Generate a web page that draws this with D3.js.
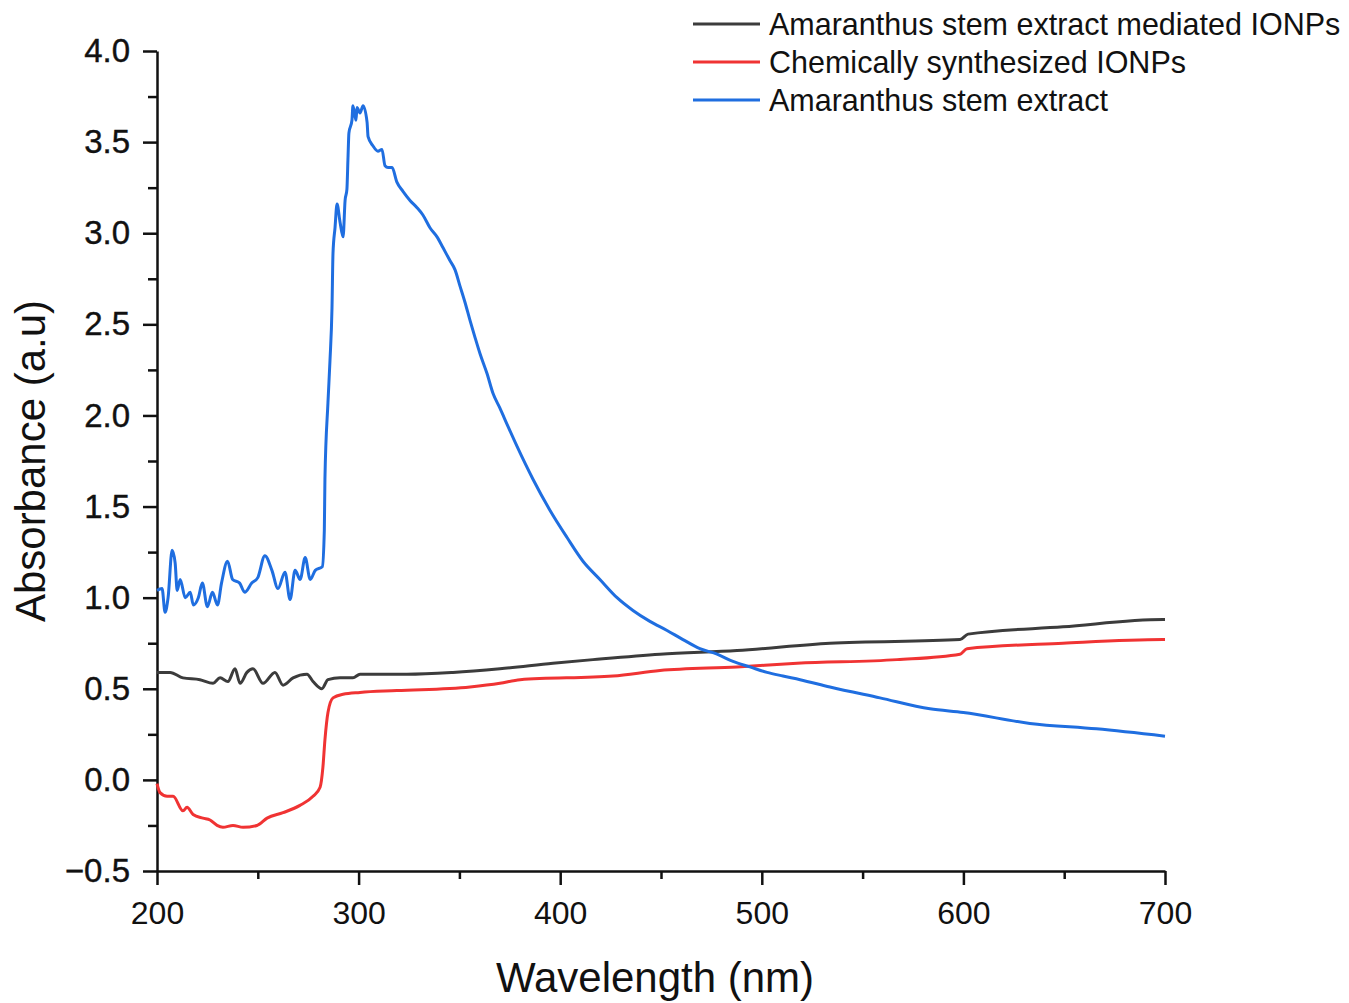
<!DOCTYPE html>
<html>
<head>
<meta charset="utf-8">
<script src="https://cdn.jsdelivr.net/npm/d3@7"></script>
<style>
  body { margin: 0; background: #fff; }
  svg text { font-family: "Liberation Sans", Arial, sans-serif; fill: #111; }
</style>
</head>
<body>
<div id="chart"></div>
<script>
// data: [wavelength nm, absorbance]
var seriesNames = ["Amaranthus stem extract mediated IONPs", "Chemically synthesized IONPs", "Amaranthus stem extract"];
var seriesColors = ["#3c3c3c", "#f03333", "#1f6ee0"];

var mediatedIONPs = [
  [200, 0.59], [206.5, 0.59], [212.9, 0.56], [221.3, 0.55], [227.8, 0.53], [231.3, 0.56],
  [235.2, 0.54], [238.7, 0.61], [241.2, 0.53], [244.6, 0.59], [247.6, 0.61], [252.6, 0.53],
  [258.5, 0.59], [262.5, 0.52], [267.5, 0.56], [274.4, 0.58], [277.4, 0.54], [281.8, 0.50],
  [284.8, 0.55], [290.8, 0.56], [297.2, 0.56], [300.7, 0.58], [324, 0.58], [346.8, 0.59],
  [370.1, 0.61], [396.4, 0.64], [416.3, 0.66], [449.5, 0.69], [487.7, 0.71], [533.8, 0.75],
  [598.3, 0.77], [602.3, 0.80], [649.4, 0.84], [699, 0.88], [700, 0.88]
];

var chemicalIONPs = [
  [200, -0.02], [201.5, -0.07], [205, -0.09], [208, -0.09], [212.9, -0.17], [214.9, -0.15],
  [217.9, -0.19], [222.8, -0.21], [226.3, -0.22], [229.8, -0.25], [232.7, -0.26], [237.7, -0.25],
  [242.7, -0.26], [249.6, -0.25], [254.6, -0.21], [262.5, -0.18], [270.9, -0.14], [277.4, -0.09],
  [280.9, -0.04], [282.3, 0.07], [283.3, 0.22], [284.8, 0.37], [287.3, 0.45], [292.3, 0.47],
  [300.7, 0.48], [319, 0.49], [355.3, 0.51], [370.1, 0.53], [380.1, 0.55], [426.2, 0.57],
  [449.5, 0.60], [487.7, 0.62], [517.5, 0.64], [567.1, 0.66], [598.3, 0.69], [601.8, 0.72],
  [649.4, 0.75], [699, 0.77], [700, 0.77]
];

var stemExtract = [
  [200, 1.04], [202.5, 1.05], [204, 0.92], [205.5, 1.00], [207.5, 1.26], [209, 1.19], [210, 1.04],
  [211.5, 1.10], [214, 1.00], [216.5, 1.03], [218, 0.96], [220.5, 1.00], [222.5, 1.08], [225, 0.95],
  [227.5, 1.03], [230, 0.96], [232, 1.08], [235, 1.20], [237.5, 1.10], [241, 1.08], [243.5, 1.03],
  [247, 1.08], [250, 1.11], [253.5, 1.23], [257, 1.15], [260, 1.05], [263.5, 1.14], [266, 0.99],
  [268.5, 1.15], [271, 1.10], [273.5, 1.22], [276, 1.10], [278.5, 1.15], [282, 1.17], [283, 1.37],
  [283.3, 1.65], [284.8, 2.07], [285.8, 2.30], [286.8, 2.59], [287.3, 2.89], [288.3, 3.03],
  [289.3, 3.16], [290.8, 3.06], [292.3, 2.98], [293.3, 3.18], [294.2, 3.24], [294.7, 3.40],
  [295.2, 3.55], [296.7, 3.62], [297.2, 3.70], [298.7, 3.62], [299.2, 3.69], [300.7, 3.66],
  [302.2, 3.70], [304.2, 3.61], [304.7, 3.53], [307.1, 3.48], [309.6, 3.45], [311.6, 3.46],
  [313.1, 3.37], [314.6, 3.36], [316.6, 3.36], [319, 3.28], [322, 3.23], [325.5, 3.18],
  [329, 3.14], [331.9, 3.10], [335.4, 3.03], [338.9, 2.98], [341.9, 2.92], [345.3, 2.85],
  [347.8, 2.80], [350.3, 2.71], [352.8, 2.62], [355.3, 2.52], [357.7, 2.43], [360.2, 2.34],
  [363.7, 2.23], [366.7, 2.12], [370.1, 2.04], [374.1, 1.94], [378.6, 1.83], [386.5, 1.65],
  [394.9, 1.48], [403.4, 1.33], [411.3, 1.20], [419.7, 1.10], [428.2, 1.00], [436.1, 0.93],
  [444.5, 0.87], [453, 0.82], [460.9, 0.77], [469.3, 0.72], [477.8, 0.69], [485.7, 0.65],
  [494.1, 0.62], [502.6, 0.59], [510.5, 0.57], [519, 0.55], [533.8, 0.51], [558.6, 0.45],
  [583.4, 0.39], [600, 0.37], [633, 0.31], [666, 0.28], [700, 0.24]
];

var xTicks = [200, 300, 400, 500, 600, 700];
var xMinorTicks = [250, 350, 450, 550, 650];
var yTicks = [-0.5, 0.0, 0.5, 1.0, 1.5, 2.0, 2.5, 3.0, 3.5, 4.0];
var yMinorTicks = [-0.25, 0.25, 0.75, 1.25, 1.75, 2.25, 2.75, 3.25, 3.75];

var svgWidth = 1349;
var svgHeight = 1003;
var margin = { top: 51, right: 184, bottom: 132, left: 157 };
var chartWidth = svgWidth - margin.left - margin.right;
var chartHeight = svgHeight - margin.top - margin.bottom;

var svg = d3.select("#chart")
    .append("svg")
    .attr("width", svgWidth)
    .attr("height", svgHeight);

var chartGroup = svg.append("g")
    .attr("transform", `translate(${margin.left}, ${margin.top})`);

var xScale = d3.scaleLinear().domain([200, 700]).range([0, chartWidth]);
var yScale = d3.scaleLinear().domain([-0.5, 4.0]).range([chartHeight, 0]);

// minor ticks first
chartGroup.append("g")
    .attr("transform", `translate(0, ${chartHeight})`)
    .call(d3.axisBottom(xScale).tickValues(xMinorTicks).tickSize(8).tickFormat(""))
    .call(g => g.select(".domain").remove());

chartGroup.append("g")
    .call(d3.axisLeft(yScale).tickValues(yMinorTicks).tickSize(9).tickFormat(""))
    .call(g => g.select(".domain").remove());

// major axes
var xAxis = chartGroup.append("g")
    .attr("transform", `translate(0, ${chartHeight})`)
    .call(d3.axisBottom(xScale).tickValues(xTicks).tickSize(14).tickSizeOuter(0).tickPadding(16));

var yAxis = chartGroup.append("g")
    .call(d3.axisLeft(yScale).tickValues(yTicks).tickSize(14).tickSizeOuter(0).tickPadding(13)
        .tickFormat(d3.format(".1f")));

chartGroup.selectAll(".tick line").attr("stroke", "#111").attr("stroke-width", 2.5);
chartGroup.selectAll(".domain").attr("stroke", "#111").attr("stroke-width", 2.5);

xAxis.selectAll("text").attr("font-size", 32).attr("font-family", "Liberation Sans");
yAxis.selectAll("text").attr("font-size", 33).attr("font-family", "Liberation Sans")
    .attr("stroke", "#111").attr("stroke-width", 0.4);

// lines
var line = d3.line()
    .x(d => xScale(d[0]))
    .y(d => yScale(d[1]))
    .curve(d3.curveMonotoneX);

var allSeries = [mediatedIONPs, chemicalIONPs, stemExtract];

allSeries.forEach(function(data, i) {
    chartGroup.append("path")
        .datum(data)
        .attr("fill", "none")
        .attr("stroke", seriesColors[i])
        .attr("stroke-width", 3)
        .attr("stroke-linejoin", "round")
        .attr("d", line);
});

// axis labels
svg.append("text")
    .attr("transform", "translate(45, 461) rotate(-90)")
    .attr("text-anchor", "middle")
    .attr("font-size", 42)
    .text("Absorbance (a.u)");

svg.append("text")
    .attr("x", 655)
    .attr("y", 992)
    .attr("text-anchor", "middle")
    .attr("font-size", 42)
    .text("Wavelength (nm)");

// legend
var legend = svg.append("g");
seriesNames.forEach(function(name, i) {
    var yPos = 24 + i * 38;
    legend.append("line")
        .attr("x1", 693).attr("x2", 760)
        .attr("y1", yPos).attr("y2", yPos)
        .attr("stroke", seriesColors[i])
        .attr("stroke-width", 3);
    legend.append("text")
        .attr("x", 769)
        .attr("y", yPos)
        .attr("dy", "0.35em")
        .attr("font-size", 30.5)
        .text(name);
});
</script>
</body>
</html>
